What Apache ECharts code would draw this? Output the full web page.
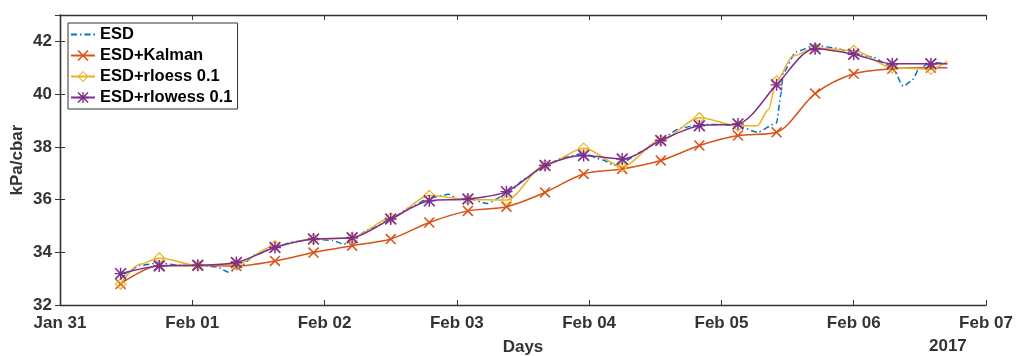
<!DOCTYPE html>
<html>
<head>
<meta charset="utf-8">
<script src="https://cdn.jsdelivr.net/npm/echarts@6/dist/echarts.min.js"></script>
<style>
  html, body { margin: 0; padding: 0; background: #fff; }
  #chart { width: 1016px; height: 356px; }
</style>
</head>
<body>
<div id="chart"></div>
<script>
// x values are hours since Jan 31 2017 00:00
const dayLabels = ['Jan 31', 'Feb 01', 'Feb 02', 'Feb 03', 'Feb 04', 'Feb 05', 'Feb 06', 'Feb 07'];
const yearLabel = '2017';
const markHours = [11, 18, 25, 32, 39, 46, 53, 60, 67, 74, 81, 88, 95, 102, 109, 116, 123, 130, 137, 144, 151, 158];

const esdHours = [11, 14.5, 18, 21.5, 25, 28.5, 30.5, 32, 35.5, 39, 42.5, 46, 49.5, 51.5, 53, 56.5, 60, 63.5, 67, 70.5, 72.5, 74,
  77.5, 81, 84.5, 88, 91.5, 95, 98.5, 100.5, 102, 105.5, 109, 112.5, 116, 119.5, 123, 126.5, 130, 130.8, 131.2, 133.5, 137,
  140.5, 144, 147.5, 151, 153, 154.5, 156, 158, 161];
const esdValues = [33.0, 33.5, 33.6, 33.5, 33.5, 33.45, 33.25, 33.35, 33.9, 34.2, 34.4, 34.5, 34.45, 34.3, 34.5, 34.9, 35.25, 35.7,
  36.05, 36.2, 36.0, 36.05, 35.85, 36.2, 36.8, 37.3, 37.6, 37.75, 37.5, 37.3, 37.4, 37.8, 38.3, 38.7, 38.85, 38.85, 38.8, 38.55,
  38.9, 40.0, 40.8, 41.6, 41.85, 41.75, 41.55, 41.4, 41.0, 40.3, 40.5, 41.0, 41.2, 41.15];

const kalmanHours = markHours.concat([161]);
const kalmanValues = [32.8, 33.5, 33.5, 33.48, 33.67, 33.99, 34.25, 34.5, 35.13, 35.57, 35.73, 36.27, 36.97, 37.16, 37.48, 38.05,
  38.43, 38.55, 40.02, 40.77, 40.96, 41.0, 41.0];

const rloessHours = [11, 14.5, 18, 25, 32, 39, 46, 53, 60, 67, 74, 81, 88, 95, 102, 109, 116, 123, 126.5, 128.5, 130, 133, 137,
  144, 151, 158, 161];
const rloessValues = [32.8, 33.55, 33.78, 33.5, 33.55, 34.25, 34.5, 34.55, 35.3, 36.15, 36.0, 35.98, 37.3, 37.95, 37.25, 38.25,
  39.1, 38.8, 38.8, 39.4, 40.5, 41.45, 41.75, 41.65, 41.0, 40.95, 41.25];

const rlowessHours = markHours.concat([161]);
const rlowessValues = [33.19, 33.48, 33.51, 33.61, 34.18, 34.5, 34.55, 35.26, 35.95, 36.02, 36.3, 37.29, 37.67, 37.54, 38.24,
  38.8, 38.87, 40.35, 41.72, 41.51, 41.15, 41.15, 41.15];

const axisColor = '#333';
const font = 'Liberation Sans, Arial, Helvetica, sans-serif';

// marker shapes (filled outlines so they take the series colour)
const xMark = 'path://M0,1L1,0L10,9L9,10Z M9,0L10,1L1,10L0,9Z';
const starMark = 'path://M0,1L1,0L10,9L9,10Z M9,0L10,1L1,10L0,9Z M4.4,0L5.6,0L5.6,10L4.4,10Z M0,5.6L0,4.4L10,4.4L10,5.6Z';
const diamondMark = 'path://M5,0L10,5L5,10L0,5Z M5,1.3L1.3,5L5,8.7L8.7,5Z';

function withMarks(hours, values) {
  return hours.map((h, i) => {
    const item = { value: [h, values[i]] };
    if (markHours.indexOf(h) < 0) item.symbol = 'none';
    return item;
  });
}

const chart = echarts.init(document.getElementById('chart'), null, { renderer: 'canvas' });

const hiddenAxis = {
  axisLine: { show: true, lineStyle: { color: axisColor, width: 1.3 } },
  axisTick: { show: true, inside: true, length: 5, lineStyle: { color: axisColor } },
  axisLabel: { show: false },
  splitLine: { show: false }
};

const options = {
  animation: false,
  backgroundColor: '#fff',
  textStyle: { fontFamily: font },
  grid: { left: 60, right: 30, top: 15, bottom: 51, containLabel: false, outerBoundsMode: 'none' },
  legend: {
    orient: 'vertical',
    left: 68,
    top: 23,
    padding: [3, 5, 3, 2],
    itemGap: 4,
    itemWidth: 24,
    itemHeight: 14,
    backgroundColor: '#fff',
    borderColor: axisColor,
    borderWidth: 1,
    textStyle: { fontFamily: font, fontWeight: 'bold', fontSize: 16.5, color: '#000' },
    data: [
      { name: 'ESD', itemStyle: { opacity: 0 } },
      'ESD+Kalman', 'ESD+rloess 0.1', 'ESD+rlowess 0.1'
    ]
  },
  graphic: [{
    type: 'text',
    left: 929,
    top: 338,
    style: { text: yearLabel, font: 'bold 17px ' + font, fill: axisColor }
  }],
  xAxis: [{
    type: 'value',
    min: 0,
    max: 168,
    interval: 24,
    name: 'Days',
    nameLocation: 'middle',
    nameGap: 34,
    nameTextStyle: { fontWeight: 'bold', fontSize: 17, color: axisColor },
    axisLine: { lineStyle: { color: axisColor, width: 1.3 } },
    axisTick: { inside: true, length: 5, lineStyle: { color: axisColor } },
    axisLabel: {
      fontWeight: 'bold', fontSize: 17, color: axisColor, margin: 10,
      formatter: v => dayLabels[Math.round(v / 24)]
    },
    splitLine: { show: false }
  }, Object.assign({ type: 'value', min: 0, max: 168, interval: 24, position: 'top' }, hiddenAxis)],
  yAxis: [{
    type: 'value',
    min: 32,
    max: 43,
    interval: 2,
    name: 'kPa/cbar',
    nameLocation: 'middle',
    nameGap: 34,
    nameMoveOverlap: false,
    nameTextStyle: { fontWeight: 'bold', fontSize: 17, color: axisColor },
    axisLine: { show: true, lineStyle: { color: axisColor, width: 1.3 } },
    axisTick: { inside: true, length: 5, lineStyle: { color: axisColor } },
    axisLabel: {
      fontWeight: 'bold', fontSize: 17, color: axisColor, margin: 8, showMaxLabel: false,
      formatter: v => (v % 2 === 0 ? String(v) : '')
    },
    splitLine: { show: false }
  }, Object.assign({ type: 'value', min: 32, max: 43, interval: 2, position: 'right' }, hiddenAxis)],
  series: [
    {
      name: 'ESD',
      type: 'line',
      data: esdHours.map((h, i) => [h, esdValues[i]]),
      showSymbol: false,
      symbol: 'none',
      smooth: 0.2,
      smoothMonotone: 'x',
      color: '#0072BD',
      lineStyle: { width: 1.5, type: [6, 3, 1.5, 3] },
      z: 2
    },
    {
      name: 'ESD+Kalman',
      type: 'line',
      data: withMarks(kalmanHours, kalmanValues),
      symbol: xMark,
      symbolSize: 11,
      showAllSymbol: true,
      smooth: 0.3,
      color: '#D95319',
      lineStyle: { width: 1.5 },
      z: 3
    },
    {
      name: 'ESD+rloess 0.1',
      type: 'line',
      data: withMarks(rloessHours, rloessValues),
      symbol: diamondMark,
      symbolSize: 12,
      showAllSymbol: true,
      smooth: 0.3,
      smoothMonotone: 'x',
      color: '#EDB120',
      lineStyle: { width: 1.5 },
      z: 4
    },
    {
      name: 'ESD+rlowess 0.1',
      type: 'line',
      data: withMarks(rlowessHours, rlowessValues),
      symbol: starMark,
      symbolSize: 12,
      showAllSymbol: true,
      smooth: 0.3,
      color: '#7E2F8E',
      lineStyle: { width: 1.5 },
      z: 5
    }
  ]
};

chart.setOption(options);
</script>
</body>
</html>
